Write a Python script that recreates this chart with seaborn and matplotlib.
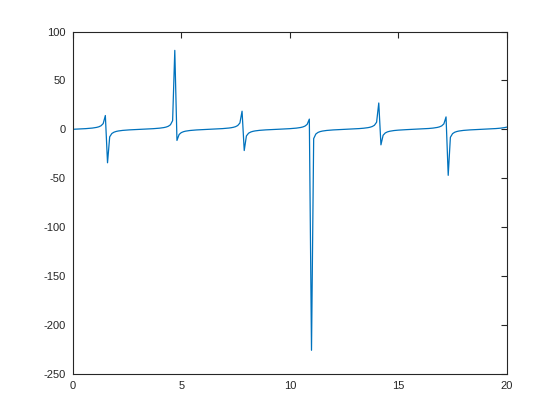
import numpy as np
import pandas as pd
import matplotlib
matplotlib.use("Agg")
import matplotlib.pyplot as plt
import seaborn as sns

# x runs 0..20 in steps of 0.1
x_vals = np.round(np.arange(0, 201) * 0.1, 1)

seg0 = [0.000, 0.100, 0.203, 0.309, 0.423, 0.546, 0.684, 0.842, 1.030, 1.260,
        1.557, 1.965, 2.572, 3.602, 5.798, 14.101]
seg1 = [-34.232, -7.697, -4.286, -2.927, -2.185, -1.710, -1.374, -1.119, -0.916, -0.747,
        -0.602, -0.473, -0.356, -0.246, -0.143, -0.042, 0.058, 0.160, 0.264, 0.375,
        0.493, 0.625, 0.774, 0.947, 1.158, 1.424, 1.778, 2.286, 3.096, 4.637,
        8.860, 80.713]
seg2 = [-11.385, -5.267, -3.381, -2.449, -1.886, -1.501, -1.218, -0.996, -0.814, -0.660,
        -0.525, -0.403, -0.291, -0.185, -0.083, 0.017, 0.117, 0.220, 0.328, 0.443,
        0.568, 0.709, 0.871, 1.065, 1.305, 1.617, 2.049, 2.706, 3.852, 6.443,
        18.507]
seg3 = [-21.715, -6.800, -3.982, -2.774, -2.091, -1.646, -1.326, -1.082, -0.886, -0.721,
        -0.579, -0.452, -0.337, -0.229, -0.125, -0.025, 0.075, 0.177, 0.282, 0.394,
        0.515, 0.648, 0.801, 0.980, 1.198, 1.476, 1.850, 2.395, 3.284, 5.048,
        10.431]
seg4 = [-225.950, -9.541, -4.823, -3.183, -2.336, -1.811, -1.448, -1.177, -0.963, -0.786,
        -0.636, -0.503, -0.384, -0.273, -0.168, -0.066, 0.034, 0.134, 0.238, 0.347,
        0.463, 0.591, 0.735, 0.901, 1.101, 1.351, 1.679, 2.140, 2.853, 4.137,
        7.245, 26.893]
seg5 = [-15.894, -6.087, -3.717, -2.634, -2.004, -1.585, -1.281, -1.046, -0.856, -0.696,
        -0.557, -0.432, -0.318, -0.211, -0.108, -0.008, 0.092, 0.194, 0.301, 0.413,
        0.536, 0.673, 0.829, 1.013, 1.240, 1.530, 1.927, 2.513, 3.494, 5.534,
        12.671]
seg6 = [-47.073, -8.208, -4.446, -3.005, -2.232, -1.742, -1.397, -1.137, -0.931, -0.760,
        -0.613, -0.483, -0.365, -0.255, -0.151, -0.050, 0.050, 0.152, 0.256, 0.366,
        0.484, 0.614, 0.761, 0.932, 1.139, 1.400, 1.745, 2.237]

y_vals = seg0 + seg1 + seg2 + seg3 + seg4 + seg5 + seg6

x_ticks = [0, 5, 10, 15, 20]
y_ticks = [-250, -200, -150, -100, -50, 0, 50, 100]

df = pd.DataFrame({"x": x_vals, "y": y_vals})

sns.set_style("white")
plt.rcParams["font.family"] = ["Liberation Sans", "DejaVu Sans"]
plt.rcParams["axes.unicode_minus"] = False

fig = plt.figure(figsize=(5.6, 4.2), dpi=100)
ax = fig.add_axes([0.13, 0.11, 0.775, 0.815])

sns.lineplot(data=df, x="x", y="y", ax=ax, color="#0072BD", linewidth=0.9)

ax.set_xlim(0, 20)
ax.set_ylim(-250, 100)
ax.set_xticks(x_ticks)
ax.set_yticks(y_ticks)
ax.set_xlabel("")
ax.set_ylabel("")
ax.tick_params(direction="in", length=4, width=0.8, colors="#262626",
               labelsize=8, top=True, right=True, pad=5)
for s in ax.spines.values():
    s.set_color("#262626")
    s.set_linewidth(0.8)

fig.savefig("out.png", dpi=100)
